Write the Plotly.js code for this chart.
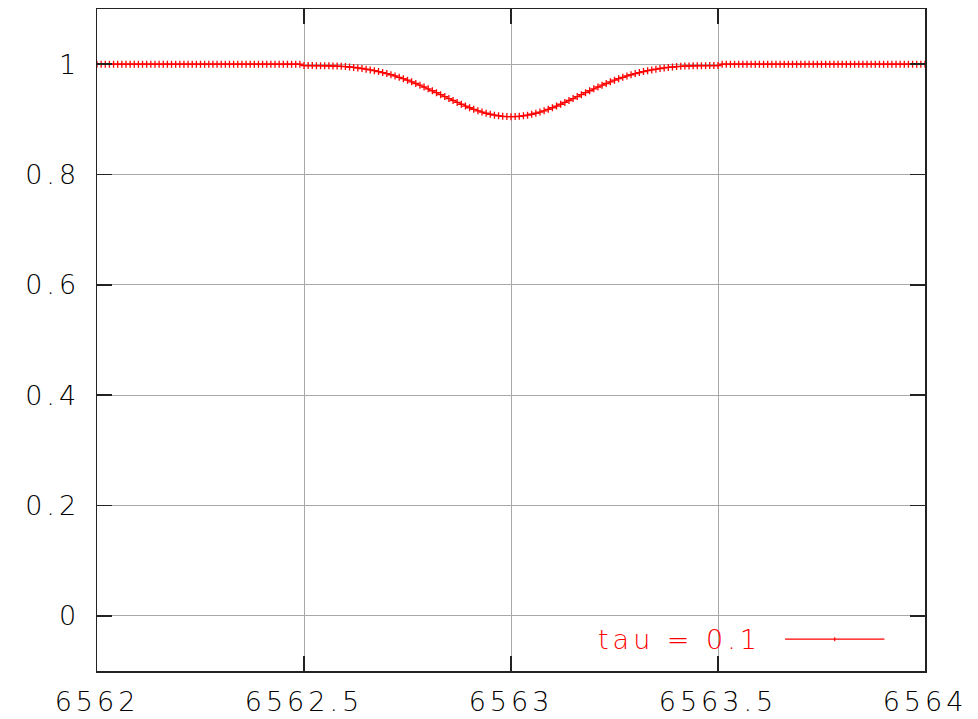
<!DOCTYPE html>
<html>
<head>
<meta charset="utf-8">
<script src="https://cdn.plot.ly/plotly-3.0.1.min.js"></script>
<style>
  html, body { margin: 0; padding: 0; background: #fff; }
  #chart { width: 978px; height: 719px; }
  .main-svg text { letter-spacing: 4px; }
</style>
</head>
<body>
<div id="chart"></div>
<script>
// Wavelength grid (start and spacing of the sampled points)
const waveStart = 6562.0;
const waveStep = 0.01;

// Normalised intensity, one value per sample
const intensity = [
  1, 1, 1, 1, 1, 1, 1, 1, 1, 1,
  1, 1, 1, 1, 1, 1, 1, 1, 1, 1,
  1, 1, 1, 1, 1, 1, 1, 1, 1, 1,
  1, 1, 1, 1, 1, 1, 1, 1, 1, 1,
  1, 1, 1, 1, 1, 1, 1, 1, 1, 1,
  0.9974, 0.9974, 0.9974, 0.9973, 0.9973, 0.9972, 0.9971, 0.9969, 0.9966, 0.9961,
  0.9956, 0.9949, 0.9941, 0.9931, 0.9921, 0.9909, 0.9896, 0.9882, 0.9866, 0.9848,
  0.9829, 0.9808, 0.9786, 0.9762, 0.9737, 0.9709, 0.9680, 0.9650, 0.9619, 0.9586,
  0.9553, 0.9518, 0.9483, 0.9447, 0.9412, 0.9376, 0.9341, 0.9306, 0.9273, 0.9241,
  0.9210, 0.9182, 0.9155, 0.9131, 0.9110, 0.9092, 0.9076, 0.9064, 0.9055, 0.9050,
  0.9048,
  0.9050, 0.9055, 0.9064, 0.9076, 0.9092, 0.9110, 0.9131, 0.9155, 0.9182, 0.9210,
  0.9241, 0.9273, 0.9306, 0.9341, 0.9376, 0.9412, 0.9447, 0.9483, 0.9518, 0.9553,
  0.9586, 0.9619, 0.9650, 0.9680, 0.9709, 0.9737, 0.9762, 0.9786, 0.9808, 0.9829,
  0.9848, 0.9866, 0.9882, 0.9896, 0.9909, 0.9921, 0.9931, 0.9941, 0.9949, 0.9956,
  0.9961, 0.9966, 0.9969, 0.9971, 0.9972, 0.9973, 0.9973, 0.9974, 0.9974, 0.9974,
  1, 1, 1, 1, 1, 1, 1, 1, 1, 1,
  1, 1, 1, 1, 1, 1, 1, 1, 1, 1,
  1, 1, 1, 1, 1, 1, 1, 1, 1, 1,
  1, 1, 1, 1, 1, 1, 1, 1, 1, 1,
  1, 1, 1, 1, 1, 1, 1, 1, 1, 1
];

const seriesName = "tau = 0.1";
const xTickStep = 0.5;
const yTickStep = 0.2;
const xRange = [6562, 6564];
const yRange = [-0.1, 1.1];

const FONT = "DejaVu Sans";
const FONT_WEIGHT = 200;
const FONT_SIZE = 27;
const RED = "#ff0000";

const trace = {
  type: "scatter",
  mode: "lines+markers",
  x0: waveStart,
  dx: waveStep,
  y: intensity,
  name: seriesName,
  line: { color: RED, width: 1 },
  marker: { symbol: "cross-thin", size: 5, color: RED, line: { color: RED, width: 1.3 } },
  cliponaxis: true,
  showlegend: false
};

const axisCommon = {
  showgrid: true,
  gridcolor: "#a8a8a8",
  gridwidth: 1,
  zeroline: false,
  showline: true,
  linecolor: "#222",
  linewidth: 1.5,
  mirror: "ticks",
  ticks: "inside",
  ticklen: 15,
  tickwidth: 1.5,
  tickcolor: "#222",
  tickfont: { family: FONT, size: FONT_SIZE, color: "#000", weight: FONT_WEIGHT }
};

const layout = {
  width: 978,
  height: 719,
  margin: { l: 97, r: 53, t: 9, b: 48 },
  paper_bgcolor: "#fff",
  plot_bgcolor: "#fff",
  font: { family: FONT },
  xaxis: Object.assign({}, axisCommon, {
    range: xRange, dtick: xTickStep, tick0: 6562, tickformat: ".1~f", ticklabelstandoff: 6
  }),
  yaxis: Object.assign({}, axisCommon, {
    range: yRange, dtick: yTickStep, tick0: 0, tickformat: ".1~f", ticklabelstandoff: 10
  }),
  annotations: [{
    xref: "paper", yref: "paper",
    x: 0.783, y: 0.047,
    xanchor: "right", yanchor: "middle",
    text: seriesName,
    showarrow: false,
    font: { family: FONT, size: FONT_SIZE, color: RED, weight: FONT_WEIGHT }
  }],
  shapes: [
    { type: "line", xref: "paper", yref: "paper", x0: 0.831, x1: 0.951, y0: 0.048, y1: 0.048,
      line: { color: RED, width: 1.2 } },
    { type: "line", xref: "paper", yref: "paper", x0: 0.891, x1: 0.891, y0: 0.045, y1: 0.051,
      line: { color: RED, width: 1.2 } }
  ]
};

Plotly.newPlot("chart", [trace], layout, { displayModeBar: false, staticPlot: true });
</script>
</body>
</html>
